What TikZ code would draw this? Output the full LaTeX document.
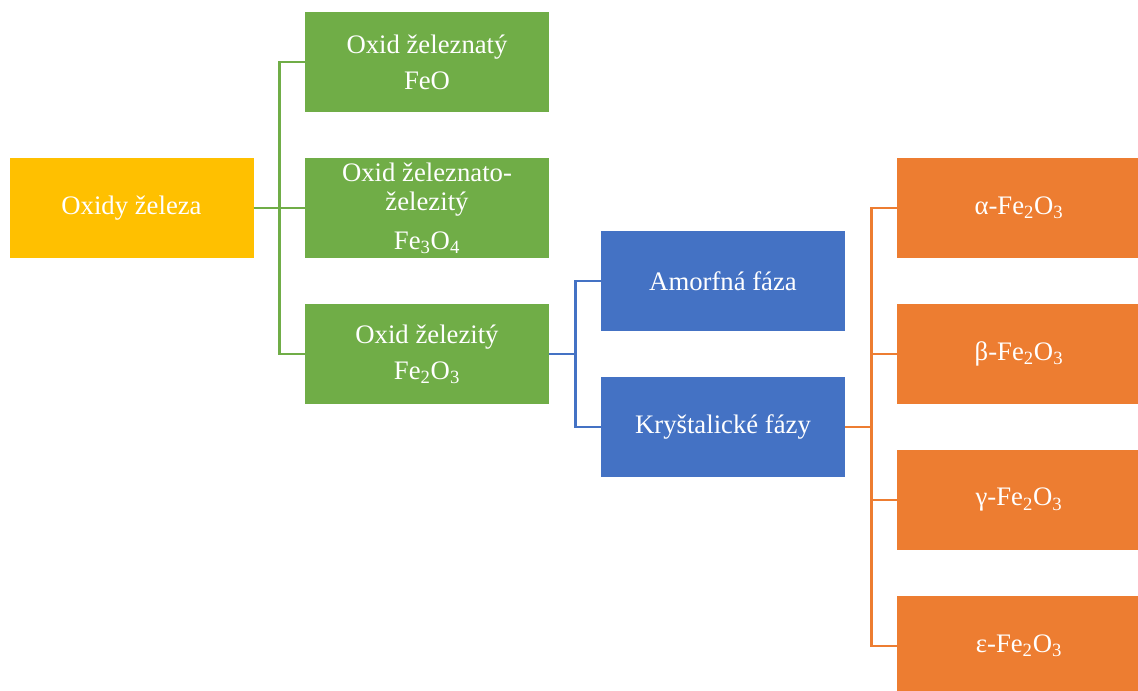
\documentclass[tikz,border=0pt]{standalone}
\usepackage{fontspec}
\setmainfont{Liberation Serif}
\usepackage{xcolor}
\usepackage{tikz}
\usetikzlibrary{positioning,calc}
\definecolor{FeYellow}{HTML}{FFC000}
\definecolor{FeGreen}{HTML}{70AD47}
\definecolor{FeBlue}{HTML}{4472C4}
\definecolor{FeOrange}{HTML}{ED7D31}

\begin{document}
\begin{tikzpicture}[font=\fontsize{19}{20.6}\selectfont,
  oxbox/.style={minimum width=6.1cm,minimum height=2.5cm,inner sep=0pt,text=white,align=center},
  branch/.style={line width=2.1pt}]
  \useasboundingbox (0,0) rectangle (28.45,17.275);
  \node[oxbox,fill=FeYellow] (oxidy) at (3.2875,12.075) {Oxidy železa};
  \node[oxbox,fill=FeGreen] (feo) at (10.675,15.725) {Oxid železnatý\\[5pt]FeO};
  \node[oxbox,fill=FeGreen] (fe3o4) at (10.675,12.075) {Oxid železnato-\\železitý\\[7pt]Fe\textsubscript{3}O\textsubscript{4}};
  \node[oxbox,fill=FeGreen] (fe2o3) at (10.675,8.425) {Oxid železitý\\[5pt]Fe\textsubscript{2}O\textsubscript{3}};
  \node[oxbox,fill=FeBlue] (amorf) at (18.075,10.25) {Amorfná fáza};
  \node[oxbox,fill=FeBlue] (kryst) at (18.075,6.6) {Kryštalické fázy};
  \node[oxbox,fill=FeOrange] (alfa) at (25.475,12.075) {α-Fe\textsubscript{2}O\textsubscript{3}};
  \node[oxbox,fill=FeOrange] (beta) at (25.475,8.425) {β-Fe\textsubscript{2}O\textsubscript{3}};
  \node[oxbox,fill=FeOrange] (gama) at (25.475,4.775) {γ-Fe\textsubscript{2}O\textsubscript{3}};
  \node[oxbox,fill=FeOrange] (epsilon) at (25.475,1.125) {ε-Fe\textsubscript{2}O\textsubscript{3}};
  \draw[branch,FeGreen] (oxidy.east) -- ++(0.65,0) |- (feo.west);
  \draw[branch,FeGreen] (oxidy.east) -- ++(0.65,0) |- (fe3o4.west);
  \draw[branch,FeGreen] (oxidy.east) -- ++(0.65,0) |- (fe2o3.west);
  \draw[branch,FeBlue] (fe2o3.east) -- ++(0.65,0) |- (amorf.west);
  \draw[branch,FeBlue] (fe2o3.east) -- ++(0.65,0) |- (kryst.west);
  \draw[branch,FeOrange] (kryst.east) -- ++(0.65,0) |- (alfa.west);
  \draw[branch,FeOrange] (kryst.east) -- ++(0.65,0) |- (beta.west);
  \draw[branch,FeOrange] (kryst.east) -- ++(0.65,0) |- (gama.west);
  \draw[branch,FeOrange] (kryst.east) -- ++(0.65,0) |- (epsilon.west);
\end{tikzpicture}
\end{document}
